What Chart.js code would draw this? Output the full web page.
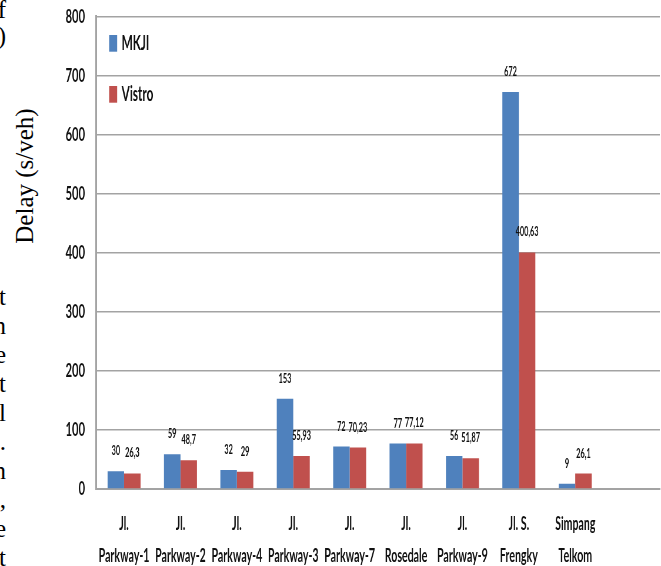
<!DOCTYPE html>
<html>
<head>
<meta charset="utf-8">
<script src="https://cdn.jsdelivr.net/npm/chart.js@4.4.1/dist/chart.umd.min.js"></script>
<style>
  html, body { margin: 0; padding: 0; background: #fff; width: 661px; height: 566px; overflow: hidden; }
  /* chart is laid out wide and squeezed horizontally, giving the tall narrow lettering */
  #stage { position: absolute; left: 0; top: 0; width: 1124px; height: 566px;
           transform: scaleX(0.58808); transform-origin: 0 0; }
  #stage canvas { display: block; }
  .serif { position: absolute; font-family: "Liberation Serif", "Times New Roman", serif;
           font-size: 25px; color: #000; white-space: nowrap; }
  #ytitle { left: 25px; top: 176px; transform: translate(-50%, -50%) rotate(-90deg); }
  .edge { right: 655px; text-align: right; line-height: 29px; }
</style>
</head>
<body>
<div class="serif edge" style="top:-3px; line-height:26px;">f<br>)</div>
<div class="serif edge" style="top:282px;">t<br>n<br>e<br>t<br>l<br>.<br>n<br>,<br>e<br>t</div>
<div class="serif" id="ytitle">Delay (s/veh)</div>
<div id="stage"><canvas id="delayChart"></canvas></div>
<script>
// Intersections on the x axis (two-line labels)
const categories = [
  ['Jl.', 'Parkway-1'], ['Jl.', 'Parkway-2'], ['Jl.', 'Parkway-4'],
  ['Jl.', 'Parkway-3'], ['Jl.', 'Parkway-7'], ['Jl.', 'Rosedale'],
  ['Jl.', 'Parkway-9'], ['Jl. S.', 'Frengky'], ['Simpang', 'Telkom']
];
const seriesNames = ['MKJI', 'Vistro'];
const mkjiDelay = [30, 59, 32, 153, 72, 77, 56, 672, 9];
const vistroDelay = [26.3, 48.7, 29, 55.93, 70.23, 77.12, 51.87, 400.63, 26.1];
const yMin = 0;
const yMax = 800;
const yStep = 100;

const BLUE = '#4F81BD';
const RED = '#C0504D';
const GRID = '#a3a3a3';
const INK = '#111';

Chart.defaults.font.family = 'Lato, "Open Sans", sans-serif';
Chart.defaults.font.weight = 'bold';

// value printed above each bar, decimal comma
const valueLabels = {
  id: 'valueLabels',
  afterDatasetsDraw(chart) {
    const ctx = chart.ctx;
    ctx.save();
    ctx.font = 'bold 12.5px Lato';
    ctx.fillStyle = INK;
    ctx.textAlign = 'center';
    ctx.textBaseline = 'middle';
    chart.data.datasets.forEach((ds, i) => {
      chart.getDatasetMeta(i).data.forEach((bar, j) => {
        const v = ds.data[j];
        if (v === null || v === undefined) return;
        ctx.fillText(String(v).replace('.', ','), bar.x, bar.y - 20);
      });
    });
    ctx.restore();
  }
};

// stacked legend in the top-left corner of the plot
const cornerLegend = {
  id: 'cornerLegend',
  afterDraw(chart) {
    const ctx = chart.ctx;
    const a = chart.chartArea;
    ctx.save();
    ctx.font = 'bold 20px Lato';
    ctx.textAlign = 'left';
    ctx.textBaseline = 'middle';
    chart.data.datasets.forEach((ds, i) => {
      const x = a.left + 22.6;
      const y = a.top + 18.5 + i * 51;
      ctx.fillStyle = ds.backgroundColor;
      ctx.fillRect(x, y, 13.6, 16.7);
      ctx.fillStyle = INK;
      ctx.fillText(ds.label, x + 13.6 + 7.6, y + 8.6);
    });
    ctx.restore();
  }
};

new Chart(document.getElementById('delayChart'), {
  type: 'bar',
  data: {
    // trailing empty slot leaves the blank space at the right of the plot
    labels: [...categories, ''],
    datasets: [
      { label: seriesNames[0], data: mkjiDelay, backgroundColor: BLUE },
      { label: seriesNames[1], data: vistroDelay, backgroundColor: RED }
    ]
  },
  options: {
    responsive: true,
    maintainAspectRatio: false,
    animation: false,
    layout: { padding: { top: 16.5, right: 2, left: 0, bottom: 0 } },
    datasets: { bar: { categoryPercentage: 0.585, barPercentage: 1.0 } },
    plugins: { legend: { display: false }, tooltip: { enabled: false } },
    scales: {
      x: {
        grid: { display: false, drawTicks: false },
        border: { display: true, color: GRID, width: 2 },
        ticks: {
          autoSkip: false, maxRotation: 0, minRotation: 0,
          padding: 19, color: INK,
          font: { size: 18, lineHeight: 1.78 }
        },
        afterFit(axis) { axis.height = 77; }
      },
      y: {
        min: yMin, max: yMax,
        ticks: { stepSize: yStep, padding: 18.5, color: INK, font: { size: 19 } },
        grid: { color: GRID, lineWidth: 1.5, drawTicks: false },
        border: { display: true, color: GRID, width: 3 },
        afterFit(axis) {
          axis.width = 163;
          axis.paddingTop = 0;
          axis.paddingBottom = 0;
        }
      }
    }
  },
  plugins: [valueLabels, cornerLegend]
});
</script>
</body>
</html>
